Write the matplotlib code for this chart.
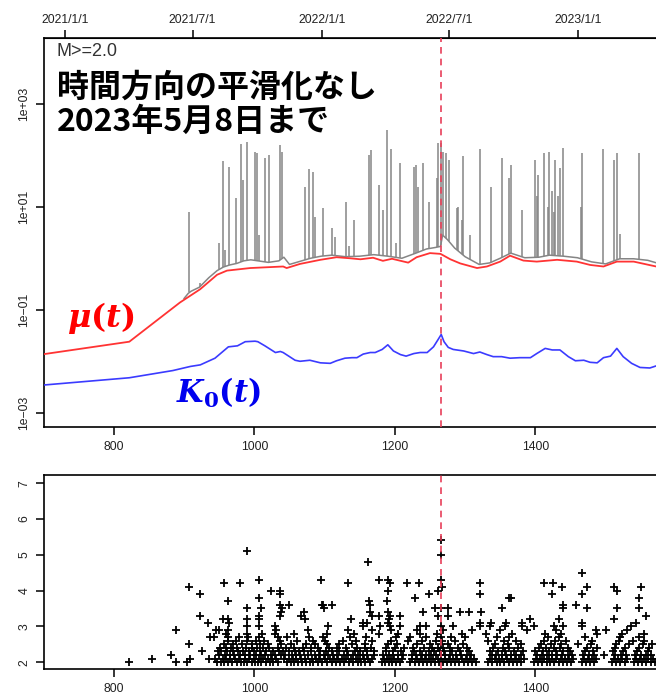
import numpy as np
import matplotlib
matplotlib.use("Agg")
import matplotlib.pyplot as plt

plt.rcParams['font.family'] = ['Liberation Sans', 'DejaVu Sans']
plt.rcParams['mathtext.fontset'] = 'custom'
plt.rcParams['mathtext.rm'] = 'DejaVu Serif:bold'
plt.rcParams['mathtext.it'] = 'DejaVu Serif:italic:bold'
plt.rcParams['mathtext.bf'] = 'DejaVu Serif:bold'

# --- background rate mu(t), log10 values ---
mu_t = [701, 822, 894, 923, 947, 961, 994, 1041, 1046, 1065, 1094, 1117, 1136,
        1151, 1169, 1183, 1196, 1219, 1231, 1250, 1265, 1279, 1293, 1317, 1331, 1350,
        1364, 1383, 1402, 1431, 1459, 1478, 1497, 1516, 1540, 1572, 1590]
mu_log = [-1.86, -1.62, -0.86, -0.60, -0.32, -0.24, -0.19, -0.16, -0.19, -0.11,
          -0.03, 0.02, 0.0, -0.02, 0.01, -0.05, -0.01, -0.085, 0.02, 0.10, 0.085, -0.02,
          -0.10, -0.19, -0.16, -0.065, 0.05, -0.045, -0.065, -0.03, -0.065, -0.13, -0.16,
          -0.065, -0.065, -0.16, -0.17]

# --- K0(t) ---
k0_t = [701, 822, 884, 909, 923, 944, 963, 976, 987, 1001, 1005, 1015, 1030, 1037, 1041,
        1058, 1065, 1079, 1094, 1108, 1117, 1129, 1139, 1146, 1155, 1165, 1172, 1182, 1190,
        1198, 1208, 1216, 1227, 1236, 1246, 1255, 1261, 1266, 1270, 1276, 1283, 1298, 1312,
        1321, 1331, 1340, 1352, 1364, 1378, 1393, 1402, 1414, 1424, 1435, 1447, 1457, 1469,
        1478, 1488, 1497, 1507, 1516, 1525, 1537, 1549, 1563, 1572, 1590]
k0_log = [-2.46, -2.32, -2.18, -2.10, -2.07, -1.94, -1.72, -1.70, -1.62, -1.61, -1.62,
          -1.70, -1.83, -1.81, -1.83, -1.98, -2.00, -1.98, -2.03, -2.04, -1.99, -1.94,
          -1.93, -1.93, -1.86, -1.83, -1.83, -1.77, -1.68, -1.80, -1.87, -1.90, -1.85,
          -1.83, -1.83, -1.72, -1.59, -1.48, -1.62, -1.73, -1.77, -1.80, -1.85, -1.82,
          -1.87, -1.91, -1.91, -1.94, -1.93, -1.93, -1.85, -1.75, -1.78, -1.78, -1.91,
          -1.99, -1.98, -2.02, -2.03, -1.93, -1.90, -1.75, -1.91, -2.04, -2.12, -2.13,
          -2.09, -2.09]

# --- intensity lambda(t): quiet level between events and spike peaks ---
lam_t = [900, 906, 910, 922, 935, 947, 956, 965, 975, 985, 995, 1005, 1020, 1035, 1042,
         1050, 1065, 1080, 1095, 1110, 1130, 1150, 1170, 1190, 1210, 1230, 1245, 1258,
         1265, 1268, 1275, 1285, 1300, 1320, 1335, 1350, 1365, 1385, 1405, 1420, 1440,
         1460, 1480, 1500, 1520, 1540, 1560, 1575, 1590]
lam_log = [-0.78, -0.68, -0.64, -0.56, -0.38, -0.24, -0.17, -0.13, -0.10, -0.05, -0.03,
           -0.05, -0.08, -0.05, 0.02, -0.12, -0.06, 0.0, 0.04, 0.06, 0.03, 0.04, 0.07,
           0.04, 0.0, 0.10, 0.18, 0.21, 0.23, 0.45, 0.36, 0.20, 0.03, -0.12, -0.09, 0.0,
           0.10, 0.01, 0.02, 0.06, 0.04, 0.01, -0.07, -0.11, -0.01, -0.01, -0.04, -0.10, -0.12]
spike_t = [907.6, 922.8, 950.3, 956, 958.9, 963.7, 974, 980.8, 983.6, 990.2, 1001.6,
           1004.4, 1007, 1015.8, 1021.5, 1036.7, 1039.6, 1071.9, 1077.6, 1083.3, 1086,
           1097.5, 1110.8, 1115.5, 1130, 1135.4, 1142, 1162.5, 1165.8, 1177.2, 1183, 1189,
           1194.3, 1201, 1207.6, 1227.9, 1230.3, 1232.7, 1239.9, 1249.3, 1259.8, 1262,
           1265.5, 1268.3, 1273, 1276.9, 1288.3, 1290.6, 1296, 1297.7, 1307, 1321.4,
           1336.6, 1353.2, 1363, 1366, 1381.2, 1400.2, 1402.5, 1403.5, 1413, 1418, 1420,
           1423.5, 1426, 1428.2, 1432, 1435.3, 1439.2, 1464.8, 1466.6, 1496.9, 1512.2,
           1516, 1520.7, 1547.3]
spike_log = [0.89, -0.48, 0.30, 1.88, 0.16, 1.78, 1.17, 2.22, 1.52, 2.25, 2.07, 2.04,
             0.45, 1.94, 2.01, 2.20, 2.07, 1.39, 1.73, 1.67, 0.81, 0.97, 0.58, 0.42, 1.10,
             0.23, 0.75, 2.01, 2.10, 1.42, 0.93, 2.49, 2.12, 0.29, 1.85, 1.78, 1.81, 1.39,
             1.85, 1.10, 1.56, 2.24, 2.24, 2.07, 2.04, 1.91, 0.97, 1.00, 0.75, 1.99, 0.45,
             2.12, 1.39, 1.94, 1.56, 1.81, 0.94, 1.91, 1.20, 1.62, 2.04, 1.00, 2.07, 1.30,
             0.90, 1.91, 1.20, 1.75, 2.14, 1.00, 2.04, 2.12, 1.91, 2.04, 0.47, 2.04]

# --- events: times (days) listed per magnitude ---
events = {
    2.0: [821, 888, 904, 947, 952, 957, 962, 968, 975, 981, 985, 990, 996, 1001, 1005, 1010,
          1016, 1022, 1027, 1033, 1046, 1052, 1057, 1062, 1068, 1074, 1079, 1084, 1090, 1097,
          1103, 1110, 1116, 1122, 1128, 1135, 1141, 1147, 1152, 1158, 1164, 1181, 1186, 1191,
          1196, 1201, 1207, 1222, 1228, 1234, 1240, 1246, 1251, 1257, 1263, 1268, 1274, 1280,
          1286, 1292, 1298, 1304, 1310, 1316, 1333, 1339, 1345, 1350, 1356, 1362, 1368, 1374,
          1380, 1398, 1404, 1410, 1416, 1421, 1427, 1433, 1439, 1445, 1451, 1466, 1472, 1478,
          1484, 1509, 1515, 1521, 1527, 1540, 1546, 1552, 1558, 1564, 1570],
    2.1: [855, 909, 936, 944, 955, 960, 966, 972, 978, 987, 993, 999, 1007, 1013, 1019, 1025,
          1031, 1042, 1049, 1055, 1060, 1066, 1072, 1082, 1088, 1094, 1100, 1107, 1113, 1119,
          1125, 1131, 1138, 1144, 1150, 1156, 1162, 1167, 1184, 1189, 1194, 1199, 1204, 1210,
          1225, 1231, 1237, 1243, 1249, 1255, 1261, 1266, 1271, 1277, 1283, 1289, 1295, 1301,
          1307, 1313, 1336, 1342, 1348, 1353, 1359, 1365, 1371, 1377, 1384, 1401, 1407, 1413,
          1419, 1424, 1430, 1436, 1442, 1448, 1454, 1469, 1475, 1481, 1487, 1512, 1518, 1524,
          1530, 1543, 1549, 1555, 1561, 1567],
    2.2: [882, 950, 958, 965, 971, 980, 986, 994, 1003, 1009, 1015, 1024, 1030, 1038, 1044,
          1053, 1059, 1065, 1076, 1086, 1092, 1099, 1105, 1112, 1118, 1127, 1133, 1140, 1148,
          1155, 1161, 1170, 1183, 1192, 1198, 1205, 1211, 1224, 1230, 1238, 1245, 1252, 1259,
          1265, 1272, 1279, 1287, 1294, 1302, 1309, 1338, 1344, 1352, 1358, 1366, 1373, 1380,
          1402, 1409, 1417, 1423, 1431, 1438, 1446, 1452, 1468, 1476, 1483, 1498, 1514, 1522,
          1529, 1542, 1550, 1557, 1565],
    2.3: [926, 948, 953, 961, 969, 977, 984, 992, 1000, 1008, 1017, 1026, 1035, 1041, 1050,
          1058, 1063, 1071, 1081, 1093, 1102, 1111, 1120, 1132, 1143, 1151, 1160, 1171, 1188,
          1197, 1209, 1227, 1236, 1248, 1256, 1264, 1270, 1282, 1293, 1305, 1335, 1347, 1357,
          1369, 1383, 1400, 1411, 1420, 1429, 1440, 1449, 1471, 1482, 1510, 1525, 1545, 1560],
    2.4: [951, 959, 967, 976, 988, 997, 1004, 1012, 1021, 1034, 1045, 1056, 1069, 1080, 1091,
          1106, 1118, 1130, 1146, 1158, 1166, 1187, 1200, 1213, 1226, 1241, 1253, 1262, 1269,
          1278, 1290, 1303, 1340, 1354, 1363, 1376, 1405, 1415, 1426, 1435, 1447, 1474, 1488,
          1513, 1528, 1547, 1562],
    2.5: [907, 957, 970, 983, 996, 1008, 1020, 1038, 1052, 1073, 1087, 1103, 1121, 1139, 1157,
          1190, 1203, 1232, 1250, 1266, 1276, 1297, 1343, 1361, 1379, 1408, 1422, 1437, 1461,
          1479, 1515, 1533, 1553, 1566],
    2.6: [962, 974, 989, 1002, 1014, 1037, 1061, 1083, 1101, 1126, 1145, 1168, 1194, 1219,
          1239, 1258, 1267, 1285, 1332, 1355, 1372, 1412, 1428, 1444, 1480, 1519, 1539, 1554],
    2.7: [937, 942, 963, 978, 991, 1006, 1033, 1047, 1078, 1098, 1136, 1159, 1201, 1222, 1244,
          1265, 1280, 1300, 1346, 1362, 1418, 1434, 1470, 1520, 1548],
    2.8: [960, 989, 1011, 1030, 1056, 1104, 1142, 1178, 1205, 1236, 1260, 1295, 1330, 1367,
          1414, 1436, 1488, 1524, 1554],
    2.9: [889, 945, 950, 963, 1031, 1077, 1134, 1168, 1195, 1232, 1268, 1310, 1349, 1388,
          1430, 1486, 1500, 1531],
    3.0: [990, 1006, 1030, 1105, 1155, 1179, 1193, 1207, 1236, 1245, 1266, 1283, 1321, 1336,
          1357, 1381, 1398, 1426, 1440, 1466, 1536],
    3.1: [934, 964, 1155, 1160, 1190, 1321, 1337, 1358, 1381, 1466, 1543],
    3.2: [956, 963, 990, 1006, 1072, 1138, 1192, 1393, 1433, 1512],
    3.3: [922, 1006, 1037, 1067, 1167, 1178, 1193, 1207, 1262, 1275, 1557],
    3.4: [1038, 1071, 1165, 1190, 1240, 1293, 1305, 1323],
    3.5: [990, 1009, 1039, 1099, 1257, 1265, 1275, 1352, 1439, 1474, 1516, 1548],
    3.6: [1036, 1049, 1096, 1098, 1110, 1164, 1439, 1458],
    3.7: [963, 1163, 1189],
    3.8: [1006, 1229, 1363, 1365, 1548],
    3.9: [922, 1036, 1249, 1321, 1423, 1467],
    4.0: [1023, 1036, 1190, 1262, 1516],
    4.1: [907, 1267, 1438, 1473, 1512, 1550],
    4.2: [957, 980, 1133, 1193, 1218, 1235, 1321, 1413, 1425],
    4.3: [1006, 1095, 1178, 1190, 1266],
    4.5: [1466],
    4.8: [1162],
    5.0: [1265],
    5.1: [990],
    5.4: [1265],
}

date_ticks = [731, 912, 1096, 1277, 1461]
date_labels = ['2021/1/1', '2021/7/1', '2022/1/1', '2022/7/1', '2023/1/1']
mainshock_t = 1266

W, H = 656, 698
fig = plt.figure(figsize=(W / 100, H / 100), dpi=100)
xlim = (701, 1600)
ax_w = (xlim[1] - xlim[0]) * 0.7025 / W
ax1 = fig.add_axes([44.3 / W, 1 - 426.7 / H, ax_w, (426.7 - 38.3) / H])
ax2 = fig.add_axes([44.3 / W, 1 - 669.3 / H, ax_w, (669.3 - 475) / H])

tick_col = '#222222'
dash_col = '#e8405a'
tsize = 8.8

# top panel
ax1.plot(lam_t, 10 ** np.array(lam_log), color='#858585', lw=1.1, zorder=2)
spike_base = 10 ** np.interp(spike_t, lam_t, lam_log)
ax1.vlines(spike_t, spike_base, 10 ** np.array(spike_log), color='#858585', lw=1.1, zorder=2)
ax1.plot(mu_t, 10 ** np.array(mu_log), color='#ff3333', lw=1.3, zorder=3)
ax1.plot(k0_t, 10 ** np.array(k0_log), color='#3b3bff', lw=1.2, zorder=3)
ax1.axvline(mainshock_t, color=dash_col, lw=1.2, ls=(0, (4, 3)), zorder=4)

ax1.set_yscale('log')
ax1.set_xlim(*xlim)
ax1.set_ylim(10 ** -3.27, 10 ** 4.27)
ax1.set_yticks([1e-3, 1e-1, 1e1, 1e3])
ax1.set_yticklabels(['1e\u221203', '1e\u221201', '1e+01', '1e+03'], rotation=90, va='center')
ax1.yaxis.set_minor_locator(matplotlib.ticker.NullLocator())
ax1.set_xticks([800, 1000, 1200, 1400])
ax1.tick_params(axis='both', direction='out', length=6, width=1.1, labelsize=tsize,
                labelcolor=tick_col, pad=4)
ax1.spines['right'].set_visible(False)
for s in ['left', 'bottom', 'top']:
    ax1.spines[s].set_linewidth(1.2)

sec = ax1.secondary_xaxis('top')
sec.set_xticks(date_ticks)
sec.set_xticklabels(date_labels)
sec.tick_params(direction='out', length=6, width=1.1, labelsize=tsize, labelcolor=tick_col,
                pad=3)

ax1.text(719, 10 ** 4.01, 'M>=2.0', fontsize=13, color='#333333', va='center', ha='left')
ax1.text(719, 10 ** 3.31, '時間方向の平滑化なし', fontsize=23, fontweight='bold',
         family=['Noto Sans CJK JP'], va='center', ha='left')
ax1.text(719, 10 ** 2.65, '2023年5月8日まで', fontsize=23, fontweight='bold',
         family=['Noto Sans CJK JP'], va='center', ha='left')
ax1.text(733, 10 ** -1.16, r'$\mu(t)$', fontsize=23, color='red', ha='left', va='center')
ax1.text(889, 10 ** -2.62, r'$K_\mathbf{0}(t)$', fontsize=22, color='#0000ee',
         ha='left', va='center')

# bottom panel
for mag, times in events.items():
    ax2.scatter(times, [mag] * len(times), marker='+', s=26, linewidths=1.3,
                color='black', zorder=3)
ax2.axvline(mainshock_t, color=dash_col, lw=1.2, ls=(0, (4, 3)), zorder=4)
ax2.set_xlim(*xlim)
ax2.set_ylim(1.8, 7.23)
ax2.set_yticks([2, 3, 4, 5, 6, 7])
ax2.set_yticklabels(['2', '3', '4', '5', '6', '7'], rotation=90, va='center')
ax2.set_xticks([800, 1000, 1200, 1400])
ax2.tick_params(axis='both', direction='out', length=6, width=1.1, labelsize=tsize,
                labelcolor=tick_col, pad=4)
ax2.spines['right'].set_visible(False)
for s in ['left', 'bottom', 'top']:
    ax2.spines[s].set_linewidth(1.2)

fig.savefig('out.png', dpi=100)
